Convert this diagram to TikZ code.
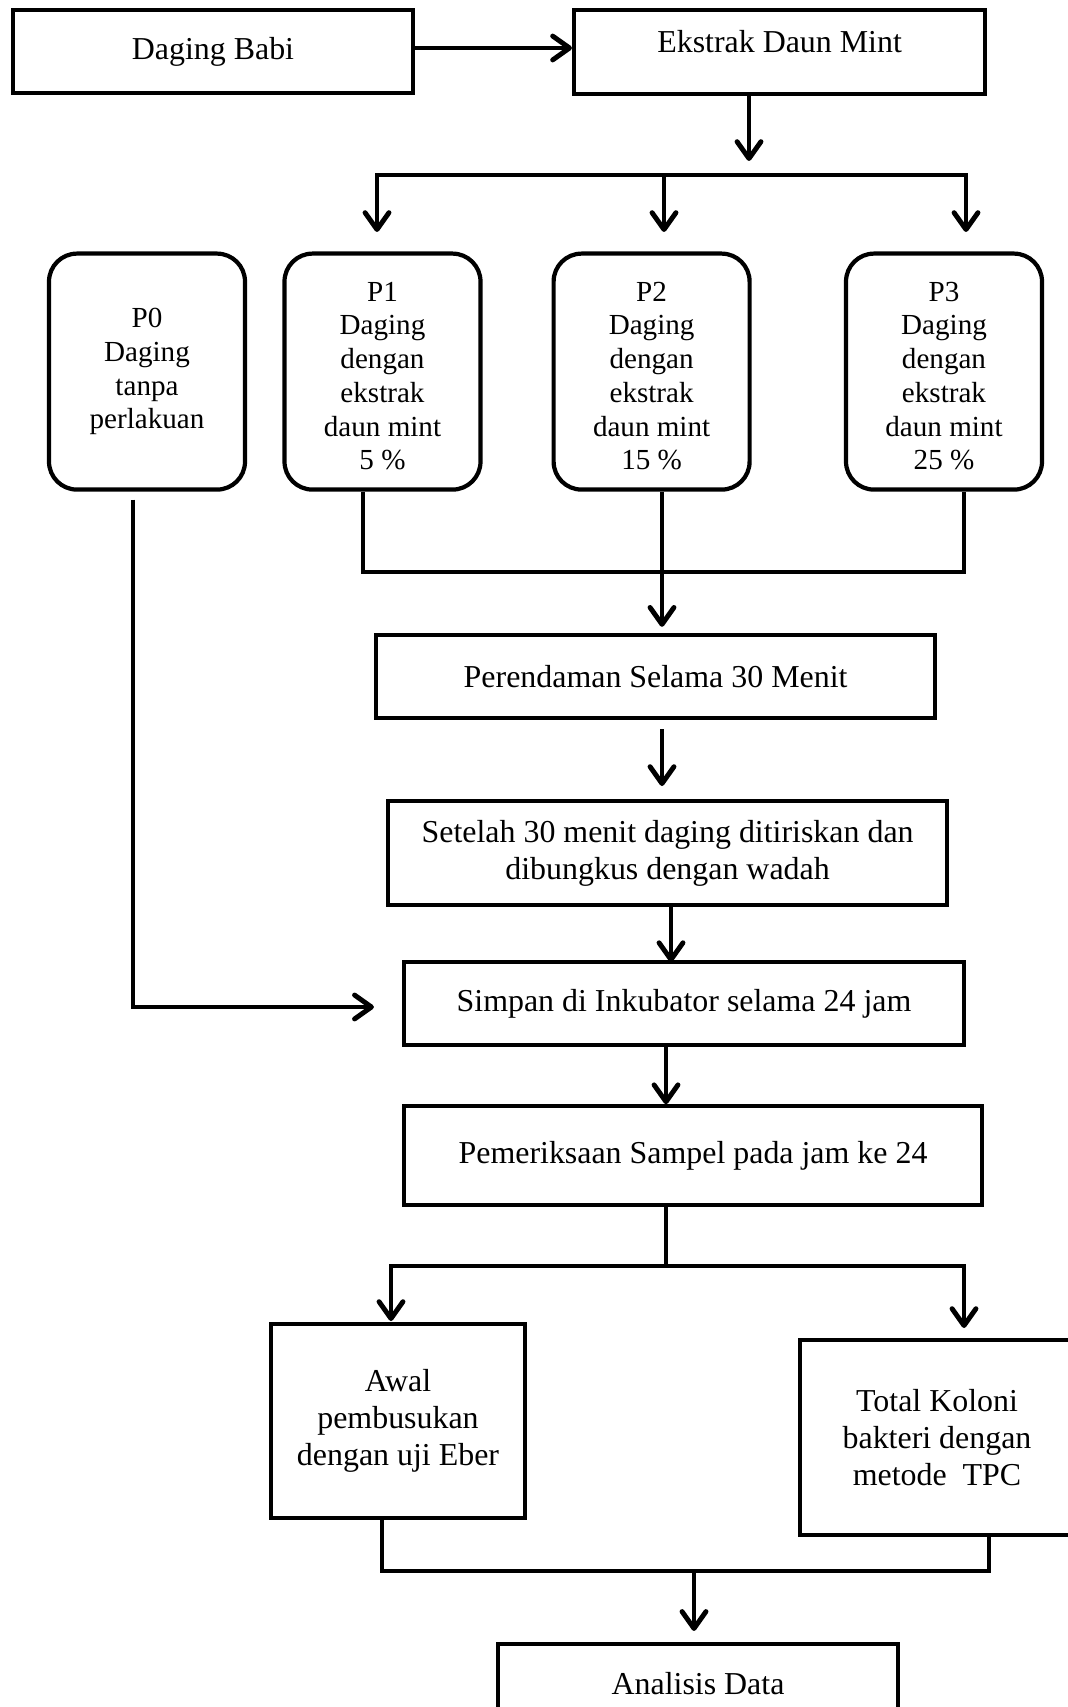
\documentclass[tikz,border=0pt]{standalone}
\usepackage{fontspec}
\setmainfont{Liberation Serif}
\usetikzlibrary{arrows.meta}

\tikzset{
	box/.style={rectangle, draw, line width=3pt, align=center, font=\fontsize{22.7pt}{26.3pt}\selectfont},
	pbox/.style={box, rounded corners=0.7cm, minimum width=4.9cm, minimum height=5.9cm, font=\fontsize{20.7pt}{24pt}\selectfont},
	link/.style={line width=2.5pt},
	barb/.tip={Straight Barb[length=12pt, width=17pt, line width=3.5pt, round]},
	arr/.style={link, -barb},
	arrtwo/.style={link, barb-barb}
}

\begin{document}
\begin{tikzpicture}
	\useasboundingbox (0, 0) rectangle (26.675, -42.675);

	\node (babi) [box, minimum width=10cm, minimum height=2.075cm] at (5.325, -1.29) {Daging Babi};
	\node (ekstrak) [box, minimum width=10.275cm, minimum height=2.1cm, text depth=0.55cm] at (19.49, -1.3) {Ekstrak Daun Mint};

	\draw [arr, line width=3.2pt] ([yshift=0.09cm]babi.east) -- ([yshift=0.09cm]babi.east -| ekstrak.west);

	% perlakuan
	\node (p0) [pbox] at (3.675, -9.29) {P0\\Daging\\tanpa\\perlakuan};
	\foreach \i/\x/\n in {1/9.5625/5, 2/16.29/15, 3/23.6/25}
		\node (p\i) [pbox] at (\x, -9.29) {\rule{0pt}{0.7cm}P\i\\Daging\\dengan\\ekstrak\\daun mint\\\n\ \%};

	\coordinate (t0) at (18.725, -4.025);
	\coordinate (t1) at (9.425, -5.8);
	\coordinate (t2) at (16.6, -5.8);
	\coordinate (t3) at (24.15, -5.8);
	\draw [arr] (ekstrak.south -| t0) -- (t0);
	\draw [arrtwo] (t1) -- ++(0, 1.425) -| (t3);
	\draw [arr] ([yshift=1.425cm]t2) -- (t2);

	\node (rendam) [box, minimum width=13.975cm, minimum height=2.075cm] at (16.39, -16.91) {Perendaman Selama 30 Menit};
	\node (setelah) [box, minimum width=13.975cm, minimum height=2.6cm] at (16.69, -21.325) {Setelah 30 menit daging ditiriskan dan\\dibungkus dengan wadah};
	\node (simpan) [box, minimum width=14cm, minimum height=2.075cm] at (17.1, -25.09) {Simpan di Inkubator selama 24 jam};
	\node (periksa) [box, minimum width=14.45cm, minimum height=2.475cm] at (17.325, -28.89) {Pemeriksaan Sampel pada jam ke 24};
	\node (awal) [box, minimum width=6.35cm, minimum height=4.85cm] at (9.95, -35.525) {Awal\\pembusukan\\dengan uji Eber};
	\node (koloni) [box, minimum width=6.85cm, minimum height=4.875cm] at (23.425, -35.94) {Total Koloni\\bakteri dengan\\metode \ TPC};
	\node (analisis) [box, minimum width=10cm, minimum height=2cm] at (17.45, -42.1) {Analisis Data};

	\coordinate (m1) at (9.075, -14.3);
	\coordinate (m2) at (16.55, -14.3);
	\coordinate (m3) at (24.1, -14.3);
	\draw [link] (p1.south -| m1) -- (m1) -- (m3) -- (p3.south -| m3);
	\draw [arr] (p2.south -| m2) -- ([yshift=0.15cm]rendam.north -| m2);

	\draw [arr] ([xshift=-0.35cm, yshift=-0.2cm]p0.south) |- ([xshift=-0.7cm, yshift=-0.085cm]simpan.west);

	\draw [arr] ([xshift=0.16cm, yshift=-0.225cm]rendam.south) -- ++(0, -1.425);
	\draw [arr] ([xshift=0.085cm]setelah.south) -- ++(0, -1.375);
	\draw [arr] ([xshift=-0.45cm]simpan.south) -- ++(0, -1.425);

	% uji
	\draw [link] ([xshift=-0.675cm]periksa.south) -- ++(0, -1.475) coordinate (j1);
	\coordinate (a1) at (9.775, -33.025);
	\coordinate (a2) at (24.1, -33.2);
	\draw [arrtwo] (a1) |- (j1) -| (a2);

	\coordinate (j2) at (17.35, -39.275);
	\draw [link] ([xshift=-0.4cm]awal.south) |- (j2) -| ([xshift=1.3cm]koloni.south);
	\draw [arr] (j2) -- ([yshift=0.275cm]analisis.north -| j2);

\end{tikzpicture}
\end{document}
